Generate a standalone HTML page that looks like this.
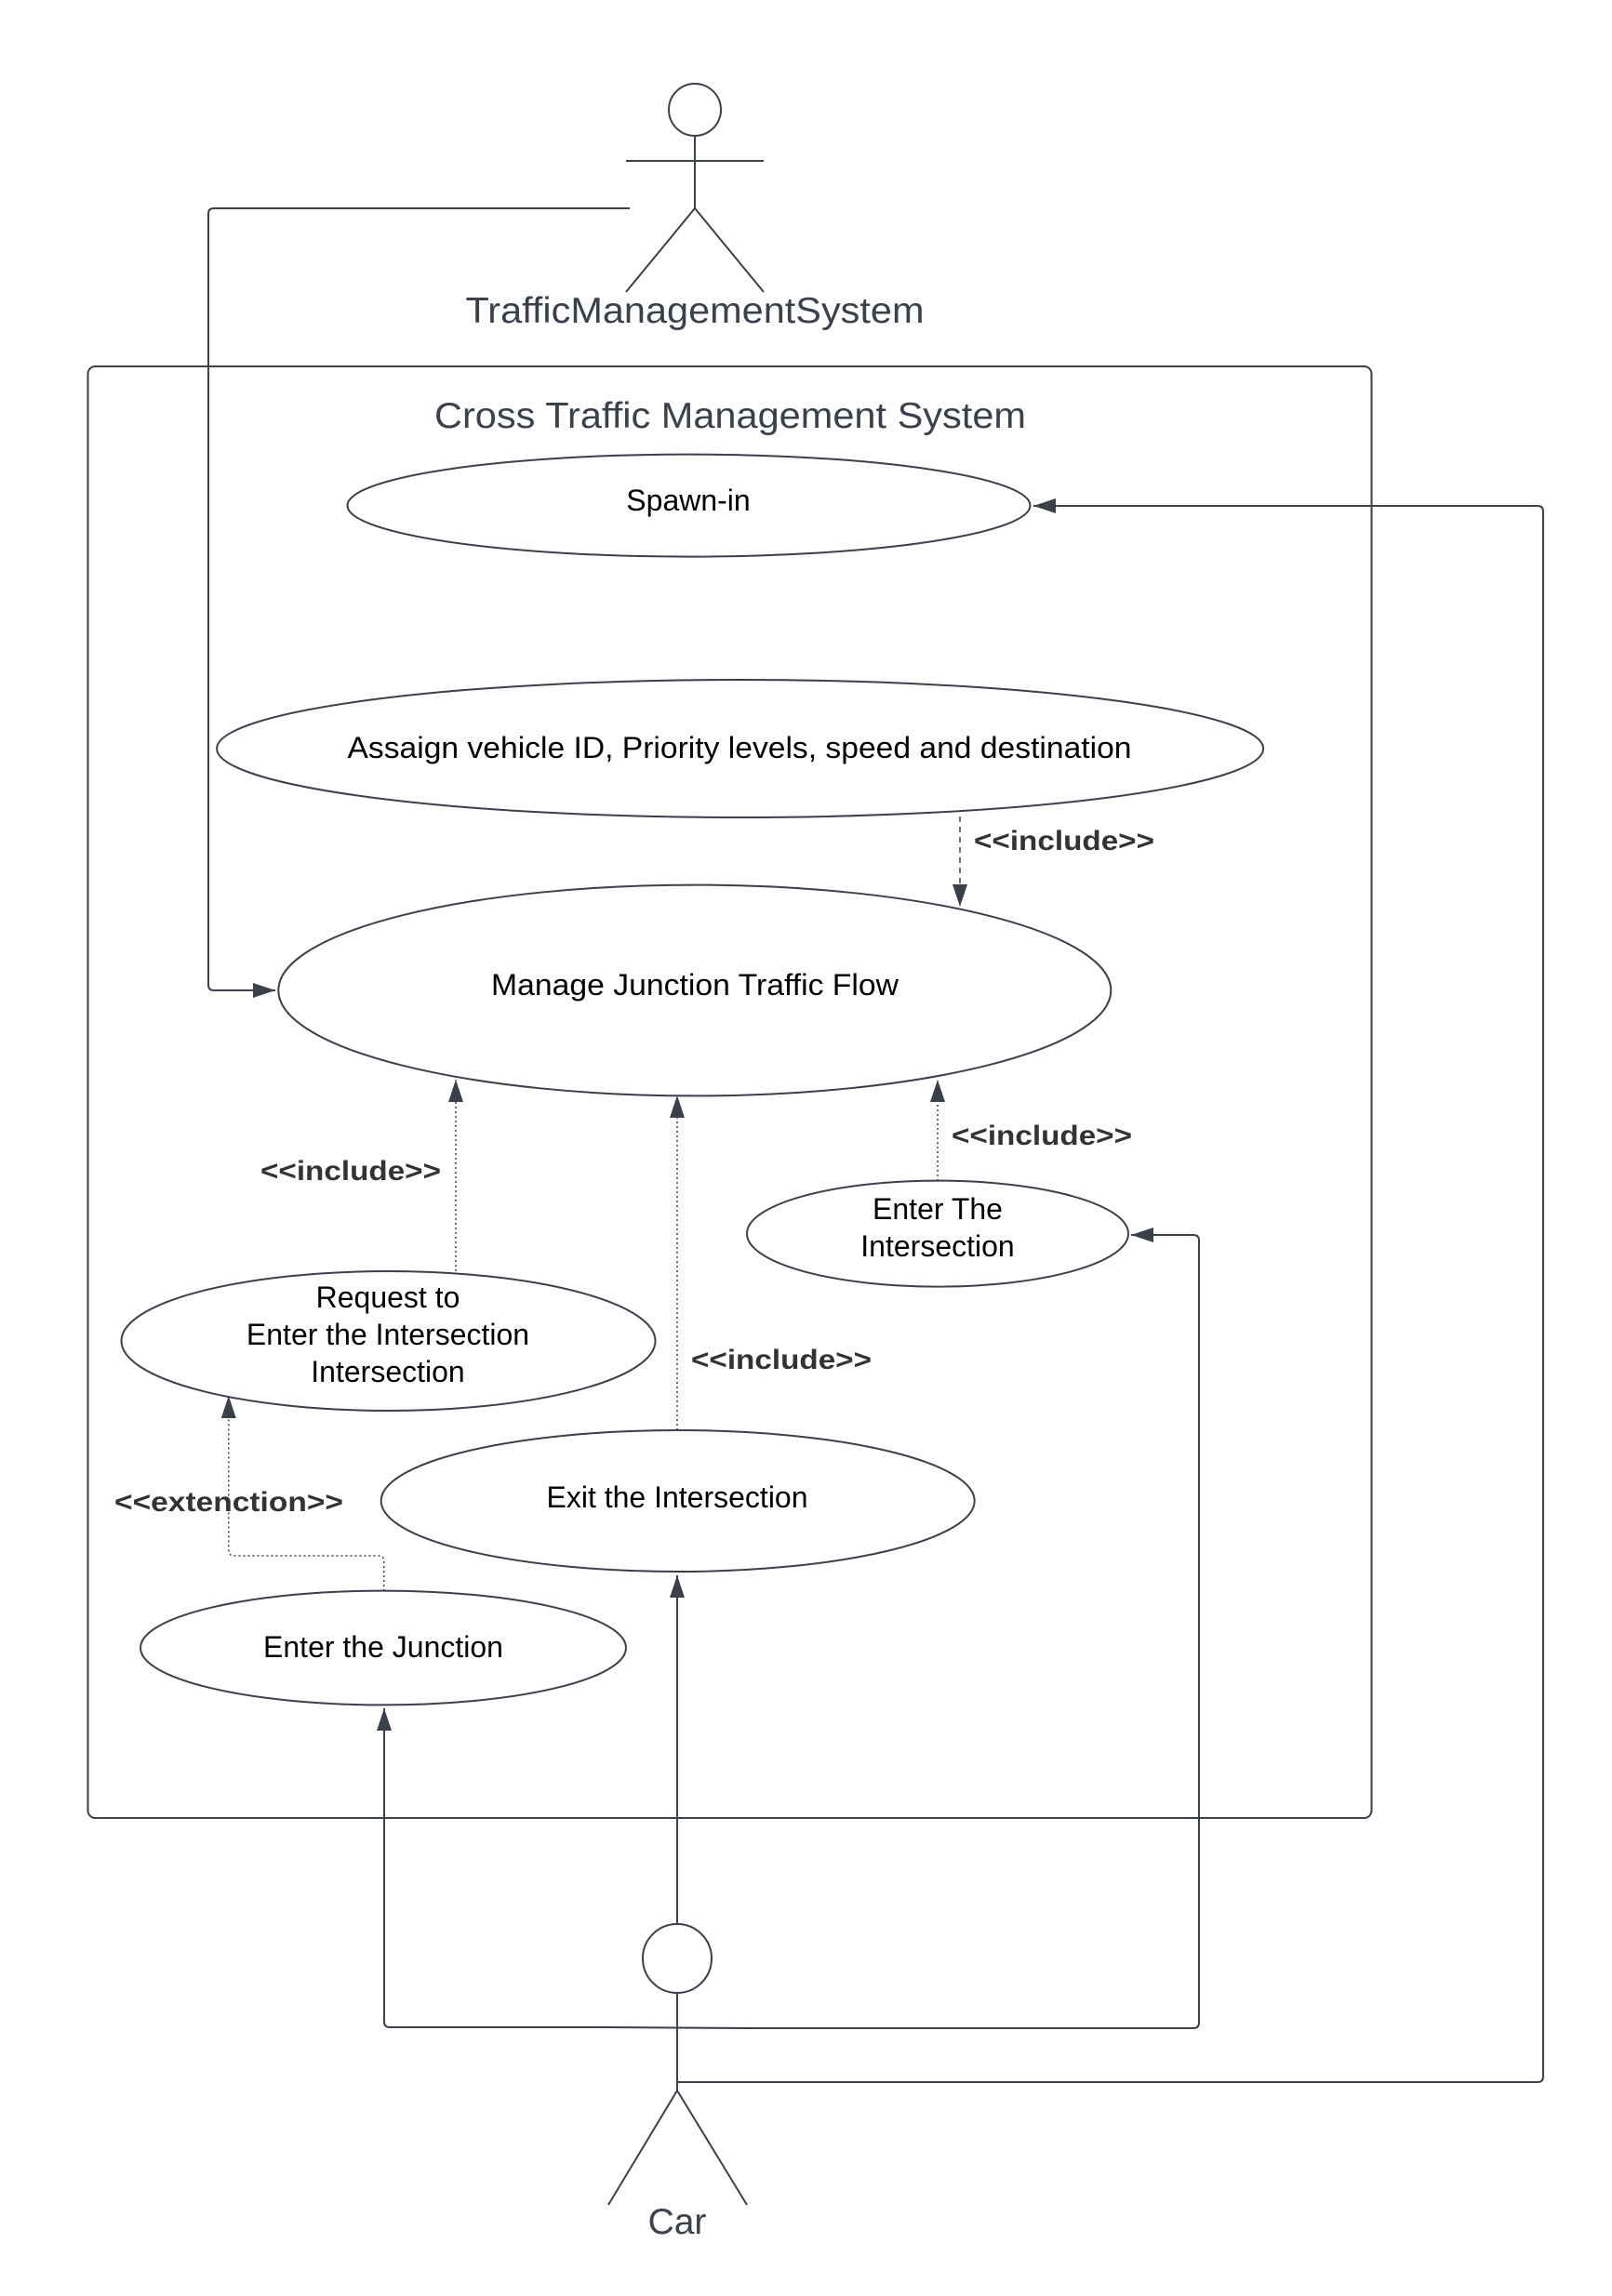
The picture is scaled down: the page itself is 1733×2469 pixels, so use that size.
<!DOCTYPE html>
<html><head><meta charset="utf-8"><style>
html,body{margin:0;padding:0;background:#fff;}
svg{display:block;}
text{font-family:"Liberation Sans",Arial,sans-serif;}
</style></head><body>
<svg width="1733" height="2469" viewBox="0 0 1733 2469" xmlns="http://www.w3.org/2000/svg">
<defs>
<marker id="ah" viewBox="0 0 24 16" refX="24" refY="8" markerWidth="24" markerHeight="16" markerUnits="userSpaceOnUse" orient="auto">
<path d="M0,0 L24,8 L0,16 Z" fill="#3a414a"/>
</marker>
</defs>
<rect width="1733" height="2469" fill="#fff"/>
<g fill="none" stroke="#3a414a" stroke-width="2">
<circle cx="747" cy="118" r="28"/>
<line x1="673" y1="173" x2="821" y2="173"/>
<line x1="747" y1="146" x2="747" y2="224"/>
<line x1="747" y1="224" x2="673" y2="314"/>
<line x1="747" y1="224" x2="821" y2="314"/>
<rect x="94.5" y="394" width="1380" height="1561" rx="8"/>
<path d="M677,224 H230 Q224,224 224,230 V1059 Q224,1065 230,1065 H296" marker-end="url(#ah)"/>
</g>
<g fill="#fff" stroke="#3a414a" stroke-width="2">
<ellipse cx="740.5" cy="543.6" rx="367" ry="55"/>
<ellipse cx="795.6" cy="805" rx="562.5" ry="74"/>
<ellipse cx="746.8" cy="1065" rx="447.5" ry="113.4"/>
<ellipse cx="1008" cy="1326.6" rx="205" ry="57"/>
<ellipse cx="417.5" cy="1442" rx="287" ry="75"/>
<ellipse cx="728.7" cy="1614" rx="319" ry="76"/>
<ellipse cx="412" cy="1772" rx="261" ry="61.4"/>
</g>
<g fill="none" stroke="#3a414a" stroke-width="1.5">
<line x1="1032" y1="878" x2="1032" y2="975" stroke-dasharray="6,5" marker-end="url(#ah)"/>
<line x1="490" y1="1367" x2="490" y2="1161" stroke-dasharray="2,3" marker-end="url(#ah)"/>
<line x1="728" y1="1538" x2="728" y2="1178" stroke-dasharray="2,3" marker-end="url(#ah)"/>
<line x1="1008" y1="1270" x2="1008" y2="1161" stroke-dasharray="2,3" marker-end="url(#ah)"/>
<path d="M412.8,1711 V1679 Q412.8,1673 406.8,1673 H251.8 Q245.8,1673 245.8,1667 V1501" stroke-dasharray="2,3" marker-end="url(#ah)"/>
</g>
<g fill="none" stroke="#3a414a" stroke-width="2">
<circle cx="728" cy="2106" r="37"/>
<line x1="728" y1="2143" x2="728" y2="2248"/>
<line x1="728" y1="2248" x2="654" y2="2371"/>
<line x1="728" y1="2248" x2="803" y2="2371"/>
<line x1="650" y1="2180" x2="805" y2="2181"/>
<line x1="728" y1="2068" x2="728" y2="1694" marker-end="url(#ah)"/>
<path d="M655,2180 H419 Q413,2180 413,2174 V1837" marker-end="url(#ah)"/>
<path d="M800,2181 H1283 Q1289,2181 1289,2175 V1334 Q1289,1328 1283,1328 H1216" marker-end="url(#ah)"/>
<path d="M728,2239 H1653 Q1659,2239 1659,2233 V550 Q1659,544 1653,544 H1111" marker-end="url(#ah)"/>
</g>
<g fill="#3a414a">
<text x="747" y="347" font-size="39" text-anchor="middle" textLength="493" lengthAdjust="spacingAndGlyphs">TrafficManagementSystem</text>
<text x="785" y="460" font-size="39" text-anchor="middle" textLength="636" lengthAdjust="spacingAndGlyphs">Cross Traffic Management System</text>
<text x="728" y="2402" font-size="39" text-anchor="middle">Car</text>
</g>
<g fill="#000" font-size="32" text-anchor="middle">
<text x="740" y="549">Spawn-in</text>
<text x="795" y="815" textLength="843" lengthAdjust="spacingAndGlyphs">Assaign vehicle ID, Priority levels, speed and destination</text>
<text x="747" y="1070" textLength="438" lengthAdjust="spacingAndGlyphs">Manage Junction Traffic Flow</text>
<text x="1008" y="1311">Enter The</text>
<text x="1008" y="1351">Intersection</text>
<text x="417" y="1406">Request  to</text>
<text x="417" y="1446">Enter the Intersection</text>
<text x="417" y="1486">Intersection</text>
<text x="728" y="1621">Exit the Intersection</text>
<text x="412" y="1782">Enter the Junction</text>
</g>
<g fill="#333" font-size="30" font-weight="bold">
<text x="1047" y="914" textLength="194" lengthAdjust="spacingAndGlyphs">&lt;&lt;include&gt;&gt;</text>
<text x="280" y="1269" textLength="194" lengthAdjust="spacingAndGlyphs">&lt;&lt;include&gt;&gt;</text>
<text x="1023" y="1231" textLength="194" lengthAdjust="spacingAndGlyphs">&lt;&lt;include&gt;&gt;</text>
<text x="743" y="1472" textLength="194" lengthAdjust="spacingAndGlyphs">&lt;&lt;include&gt;&gt;</text>
<text x="123" y="1625" textLength="246" lengthAdjust="spacingAndGlyphs">&lt;&lt;extenction&gt;&gt;</text>
</g>
</svg>
</body></html>
